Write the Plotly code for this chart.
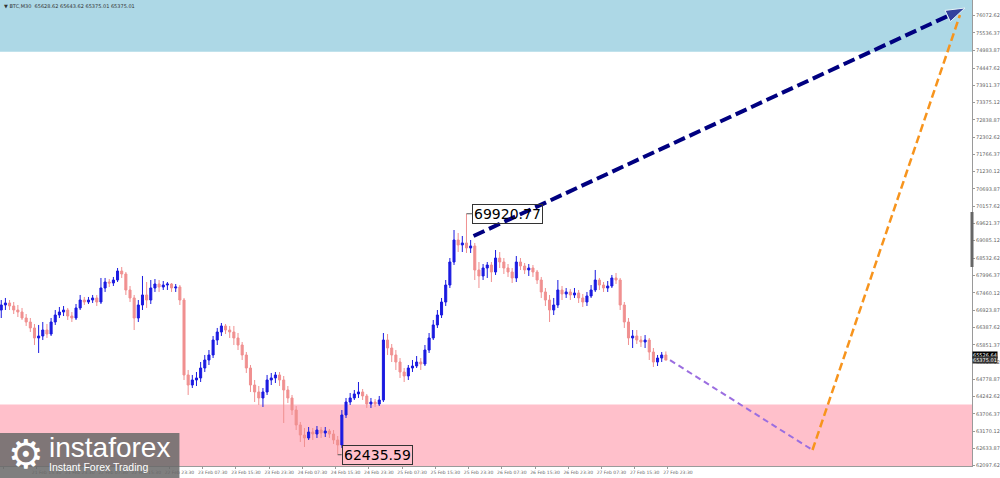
import pandas as pd
import plotly.graph_objects as go

# ---------------- data ----------------
bar_start = "2024-02-21 07:00"   # hourly bars

opens = [
    66931, 67087, 67149, 67056, 66931, 66869, 66683, 66559, 66373, 66062,
    66124, 66310, 66186, 66559, 66776, 66869, 66931, 66745, 66683, 66994,
    67242, 67180, 67242, 67305, 67180, 67615, 67801, 67770, 67863, 68143,
    68050, 67553, 67305, 66683, 67087, 67398, 67242, 67615, 67739, 67646,
    67708, 67739, 67615, 67646, 67242, 64913, 64602, 64757, 64820, 65130,
    65378, 65534, 65999, 66248, 66435, 66310, 66248, 66062, 65844, 65534,
    65130, 64602, 64385, 64199, 64385, 64757, 64820, 64913, 64757, 64447,
    64199, 63825, 63360, 63049, 62956, 63142, 63080, 63204, 63111, 63173,
    63080, 62894, 62739, 63670, 64074, 64199, 64323, 64385, 64261, 64012,
    64074, 64012, 64136, 65999, 65751, 65534, 65316, 65006, 64882, 65130,
    65192, 65316, 65254, 65689, 66062, 66466, 66776, 67180, 67708, 68422,
    69106, 68951, 69013, 68858, 68920, 68174, 67988, 68236, 68329, 68112,
    68546, 68422, 68236, 68112, 67926, 68422, 68298, 68174, 68236, 68112,
    67863, 67491, 67242, 66931, 67087, 67553, 67429, 67491, 67398, 67460,
    67305, 67180, 67367, 67553, 67863, 67708, 67615, 67677, 67926, 67863,
    67087, 66559, 66062, 66124, 65999, 65937, 65999, 65627, 65316, 65440,
    65534,
]
highs = [
    67242, 67305, 67242, 67180, 67087, 66994, 66807, 66683, 66497, 66466,
    66559, 66497, 66683, 66931, 67025, 67056, 66994, 66869, 67118, 67398,
    67336, 67336, 67398, 67398, 67926, 67926, 67894, 67957, 68236, 68267,
    68112, 67677, 67398, 67242, 67988, 67801, 67863, 67894, 67863, 67832,
    67801, 67770, 67739, 67708, 67305, 65068, 64913, 65006, 65316, 65534,
    65689, 66124, 66373, 66528, 66497, 66435, 66435, 66217, 65937, 65627,
    65223, 64757, 64571, 64509, 64913, 64975, 65006, 65006, 64881, 64571,
    64292, 63949, 63453, 63266, 63297, 63266, 63328, 63297, 63297, 63235,
    63204, 63018, 63825, 64199, 64354, 64447, 64695, 64478, 64323, 64199,
    64167, 64261, 66217, 66186, 65875, 65689, 65440, 65130, 65223, 65378,
    65502, 65440, 65844, 66217, 66621, 66931, 67305, 67863, 68546, 69416,
    69323, 69230, 69920.77, 69106, 69013, 68422, 68360, 68422, 68422, 68795,
    68733, 68546, 68360, 68236, 68608, 68546, 68391, 68360, 68329, 68174,
    67957, 67615, 67398, 67305, 67863, 67677, 67615, 67584, 67615, 67553,
    67429, 67491, 67708, 68174, 67926, 67801, 67832, 68019, 68081, 67926,
    67180, 66683, 66310, 66310, 66124, 66154, 66062, 65751, 65534, 65627,
    65643.62,
]
lows = [
    66683, 66931, 66931, 66807, 66714, 66621, 66435, 66248, 65844, 65596,
    65999, 66062, 66124, 66466, 66683, 66745, 66621, 66559, 66621, 66931,
    67087, 67118, 67149, 67056, 67118, 67491, 67646, 67677, 67801, 67926,
    67398, 67180, 66310, 66559, 66931, 66994, 67118, 67491, 67491, 67553,
    67553, 67491, 67491, 67087, 64757, 64292, 64509, 64571, 64695, 65006,
    65223, 65440, 65844, 66124, 66186, 66062, 65844, 65689, 65378, 64975,
    64385, 64074, 63981, 63919, 64292, 64602, 64664, 64571, 63422, 64043,
    63670, 63204, 62832, 62677, 62894, 62894, 62956, 62956, 62987, 62956,
    62770, 62435.59, 62646, 63577, 63981, 64136, 64199, 64136, 63888, 63888,
    63919, 63950, 64074, 65534, 65316, 65068, 64820, 64695, 64757, 65006,
    65130, 65068, 65192, 65596, 65999, 66373, 66683, 67056, 67615, 68329,
    68733, 68733, 68702, 68702, 67863, 67615, 67863, 67926, 67801, 68019,
    68236, 68050, 67957, 67770, 67801, 68174, 68050, 67988, 67957, 67739,
    67305, 67056, 66559, 66776, 66994, 67242, 67305, 67242, 67305, 67149,
    67025, 67056, 67305, 67491, 67553, 67491, 67491, 67615, 67739, 66931,
    66373, 65844, 65751, 65875, 65782, 65751, 65378, 65161, 65192, 65316,
    65375.01,
]
closes = [
    67087, 67149, 67056, 66931, 66869, 66683, 66559, 66373, 66062, 66124,
    66310, 66186, 66559, 66776, 66869, 66931, 66745, 66683, 66994, 67242,
    67180, 67242, 67305, 67180, 67615, 67801, 67770, 67863, 68143, 68050,
    67553, 67305, 66683, 67087, 67398, 67242, 67615, 67739, 67646, 67708,
    67739, 67615, 67646, 67242, 64913, 64602, 64757, 64820, 65130, 65378,
    65534, 65999, 66248, 66435, 66310, 66248, 66062, 65844, 65534, 65130,
    64602, 64385, 64199, 64385, 64757, 64820, 64913, 64757, 64447, 64199,
    63825, 63360, 63049, 62956, 63142, 63080, 63204, 63111, 63173, 63080,
    62894, 62739, 63670, 64074, 64199, 64323, 64385, 64261, 64012, 64074,
    64012, 64136, 65999, 65751, 65534, 65316, 65006, 64882, 65130, 65192,
    65316, 65254, 65689, 66062, 66466, 66776, 67180, 67708, 68422, 69106,
    68951, 69013, 68858, 68920, 68174, 67988, 68236, 68329, 68112, 68546,
    68422, 68236, 68112, 67926, 68422, 68298, 68174, 68236, 68112, 67863,
    67491, 67242, 66931, 67087, 67553, 67429, 67491, 67398, 67460, 67305,
    67180, 67367, 67553, 67863, 67708, 67615, 67677, 67926, 67863, 67087,
    66559, 66062, 66124, 65999, 65937, 65999, 65627, 65316, 65440, 65534,
    65375.01,
]

price_ticks = [76072.62, 75536.37, 74983.87, 74447.62, 73911.37, 73375.12,
               72838.87, 72302.62, 71766.37, 71230.12, 70693.87, 70157.62,
               69621.37, 69085.12, 68532.62, 67996.37, 67460.12, 66923.87,
               66387.62, 65851.37, 65315.12, 64778.87, 64242.62, 63706.37,
               63170.12, 62633.87, 62097.62]

time_ticks = ["2024-02-21 07:30", "2024-02-21 15:30", "2024-02-21 23:30",
              "2024-02-22 07:30", "2024-02-22 15:30", "2024-02-22 23:30",
              "2024-02-23 07:30", "2024-02-23 15:30", "2024-02-23 23:30",
              "2024-02-24 07:30", "2024-02-24 15:30", "2024-02-24 23:30",
              "2024-02-25 07:30", "2024-02-25 15:30", "2024-02-25 23:30",
              "2024-02-26 07:30", "2024-02-26 15:30", "2024-02-26 23:30",
              "2024-02-27 07:30", "2024-02-27 15:30", "2024-02-27 23:30"]
time_tick_labels = ["21 Feb 2024", "21 Feb 15:30", "21 Feb 23:30",
                    "22 Feb 07:30", "22 Feb 15:30", "22 Feb 23:30",
                    "23 Feb 07:30", "23 Feb 15:30", "23 Feb 23:30",
                    "24 Feb 07:30", "24 Feb 15:30", "24 Feb 23:30",
                    "25 Feb 07:30", "25 Feb 15:30", "25 Feb 23:30",
                    "26 Feb 07:30", "26 Feb 15:30", "26 Feb 23:30",
                    "27 Feb 07:30", "27 Feb 15:30", "27 Feb 23:30"]

x_range = ["2024-02-21 06:42", "2024-03-02 00:42"]
y_range = [62086, 76560]

resistance_zone = [74950, 76560]
support_zone = [62086, 64000]

main_wave_t = ["2024-02-26 00:42", "2024-03-01 23:00"]
main_wave_p = [69230, 76311]
down_wave_t = ["2024-02-28 00:00", "2024-02-29 10:18"]
down_wave_p = [65375.01, 62583]
up_wave_t = ["2024-02-29 10:18", "2024-03-01 21:48"]
up_wave_p = [62583, 76094]

peak_t, peak_p, peak_text = "2024-02-25 23:00", 69920.77, "69920.77"
low_t, low_p, low_text = "2024-02-24 16:00", 62435.59, "62435.59"

title_text = "▼ BTC,M30  65628.62 65643.62 65375.01 65375.01"
ask_p, ask_text = 65526.64, "65526.64"
bid_p, bid_text = 65375.01, "65375.01"
scroll_marker = [69976, 68267]

# ---------------- figure ----------------
bar_times = pd.date_range(bar_start, periods=len(closes), freq="h")

fig = go.Figure()
fig.add_trace(go.Candlestick(
    x=bar_times, open=opens, high=highs, low=lows, close=closes,
    increasing=dict(line=dict(color="#1a1ae0", width=1), fillcolor="#1a1ae0"),
    decreasing=dict(line=dict(color="#f09090", width=1), fillcolor="#f09090"),
    whiskerwidth=0, showlegend=False, hoverinfo="skip"))

fig.add_trace(go.Scatter(x=down_wave_t, y=down_wave_p, mode="lines",
                         line=dict(color="#9b6ee0", width=2, dash="6px,4px"),
                         showlegend=False, hoverinfo="skip"))
fig.add_trace(go.Scatter(x=up_wave_t, y=up_wave_p, mode="lines",
                         line=dict(color="#f7941d", width=2.5, dash="8px,4px"),
                         showlegend=False, hoverinfo="skip"))
fig.add_trace(go.Scatter(x=main_wave_t, y=main_wave_p, mode="lines+markers",
                         line=dict(color="#000080", width=4, dash="12px,5px"),
                         marker=dict(symbol="arrow", angleref="previous",
                                     size=[0, 20], color="#000080"),
                         showlegend=False, hoverinfo="skip"))

fig.add_shape(type="rect", xref="paper", yref="y", x0=0, x1=1,
              y0=resistance_zone[0], y1=resistance_zone[1],
              fillcolor="#add8e6", line=dict(width=0), layer="below")
fig.add_shape(type="rect", xref="paper", yref="y", x0=0, x1=1,
              y0=support_zone[0], y1=support_zone[1],
              fillcolor="#ffc0cb", line=dict(width=0), layer="below")
fig.add_shape(type="line", xref="paper", yref="y", x0=1, x1=1,
              y0=scroll_marker[0], y1=scroll_marker[1],
              line=dict(color="#666666", width=3))

label_font = dict(family="DejaVu Sans", size=14, color="#000000")
fig.add_annotation(x=peak_t, y=peak_p, text=peak_text, showarrow=True,
                   ax=6, ay=0, arrowhead=0, arrowwidth=1, arrowcolor="#555",
                   xanchor="left", yanchor="middle", bordercolor="#333",
                   borderwidth=1, borderpad=1, font=label_font)
fig.add_annotation(x=low_t, y=low_p, text=low_text, showarrow=True,
                   ax=4, ay=0, arrowhead=0, arrowwidth=1, arrowcolor="#555",
                   xanchor="left", yanchor="middle", bordercolor="#333",
                   borderwidth=1, borderpad=1, font=label_font)

fig.add_annotation(xref="paper", yref="paper", x=0.002, y=0.998,
                   xanchor="left", yanchor="top", showarrow=False,
                   text=title_text,
                   font=dict(family="DejaVu Sans", size=5, color="#333"))

for p, t, bg in [(ask_p, ask_text, "#000000"), (bid_p, bid_text, "#333333")]:
    fig.add_annotation(xref="paper", yref="y", x=1.0, y=p, xanchor="left",
                       yanchor="middle", showarrow=False, text=t,
                       bgcolor=bg, borderpad=0,
                       font=dict(family="DejaVu Sans", size=5, color="#ffffff"))

# logo
fig.add_shape(type="rect", xref="paper", yref="paper", x0=0, x1=0.1846,
              y0=-0.03, y1=0.0708, fillcolor="rgba(105,105,105,0.85)",
              line=dict(width=0))
fig.add_annotation(xref="paper", yref="paper", x=0.0267, y=0.026,
                   text="⚙", showarrow=False, xanchor="center", yanchor="middle",
                   font=dict(family="DejaVu Sans", size=40, color="#ffffff"))
fig.add_annotation(xref="paper", yref="paper", x=0.113, y=0.040,
                   text="instaforex", showarrow=False, xanchor="center",
                   yanchor="middle",
                   font=dict(family="Liberation Sans", size=28, color="#ffffff"))
fig.add_annotation(xref="paper", yref="paper", x=0.1015, y=-0.002,
                   text="Instant Forex Trading", showarrow=False,
                   xanchor="center", yanchor="middle",
                   font=dict(family="Liberation Sans", size=10.5, color="#ffffff"))

fig.update_layout(
    width=1000, height=478,
    margin=dict(l=0, r=25, t=0, b=12, pad=0),
    paper_bgcolor="#ffffff", plot_bgcolor="#ffffff",
    showlegend=False,
    xaxis=dict(type="date", range=x_range, rangeslider=dict(visible=False),
               tickvals=time_ticks, ticktext=time_tick_labels,
               showgrid=False, zeroline=False, showline=True,
               linecolor="#9a9a9a", linewidth=1, ticks="outside", ticklen=2,
               tickcolor="#9a9a9a", ticklabelshift=10,
               tickfont=dict(family="DejaVu Sans", size=4.5, color="#666")),
    yaxis=dict(side="right", range=y_range, tickvals=price_ticks,
               ticktext=[f"{v:.2f}" for v in price_ticks],
               showgrid=False, zeroline=False, showline=True,
               linecolor="#9a9a9a", linewidth=1, ticks="outside", ticklen=2,
               tickcolor="#9a9a9a",
               tickfont=dict(family="DejaVu Sans", size=5, color="#666")),
)

fig.write_html("out.html",
               config={"displayModeBar": False},
               post_script="document.body.style.margin='0';"
                           "document.body.style.overflow='hidden';")
